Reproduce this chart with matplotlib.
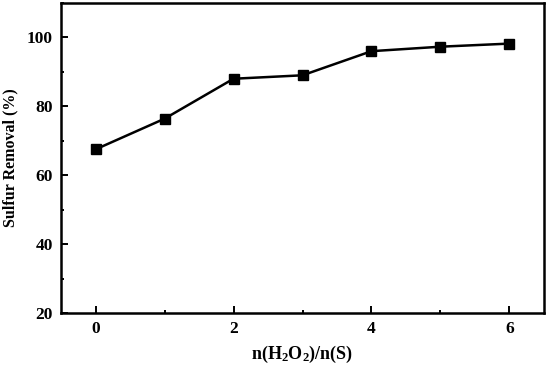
import matplotlib
matplotlib.use("Agg")
import matplotlib.pyplot as plt
from matplotlib.ticker import MultipleLocator

plt.rcParams["font.family"] = "Liberation Serif"
plt.rcParams["font.weight"] = "bold"
plt.rcParams["mathtext.fontset"] = "custom"
plt.rcParams["mathtext.rm"] = "Liberation Serif:bold"
plt.rcParams["mathtext.it"] = "Liberation Serif:bold"
plt.rcParams["mathtext.bf"] = "Liberation Serif:bold"

ratio = [0, 1, 2, 3, 4, 5, 6]
removal = [67.5, 76.4, 88.0, 89.0, 96.0, 97.3, 98.2]

fig = plt.figure(figsize=(5.5, 3.67), dpi=100)
ax = fig.add_axes([0.111, 0.147, 0.878, 0.845])

ax.plot(ratio, removal, color="black", lw=1.8, marker="s", ms=6.5)

ax.set_xlim(-0.5, 6.5)
ax.set_ylim(20, 110)
ax.xaxis.set_major_locator(MultipleLocator(2))
ax.xaxis.set_minor_locator(MultipleLocator(1))
ax.yaxis.set_major_locator(MultipleLocator(20))
ax.yaxis.set_minor_locator(MultipleLocator(10))
ax.tick_params(which="both", direction="in", width=1.4, labelsize=12.5)
ax.tick_params(which="major", length=5, pad=6)
ax.tick_params(which="minor", length=2.5)
for s in ax.spines.values():
    s.set_linewidth(1.8)

ax.set_xlabel(r"n(H$_2$O$_2$)/n(S)", fontsize=13, fontweight="bold", labelpad=5)
ax.set_ylabel("Sulfur Removal (%)", fontsize=11.5, fontweight="bold", labelpad=6)

fig.savefig("out.png", dpi=100)
